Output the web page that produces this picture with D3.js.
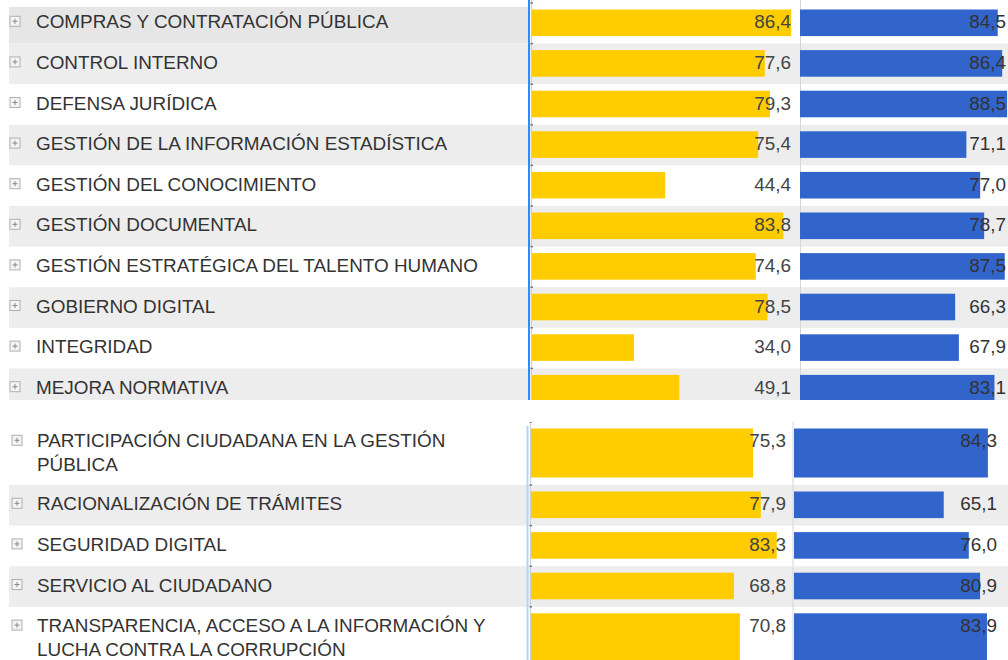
<!DOCTYPE html>
<html>
<head>
<meta charset="utf-8">
<script src="https://cdn.jsdelivr.net/npm/d3@7"></script>
<style>
  body { margin: 0; background: #fff; }
  svg { display: block; }
</style>
</head>
<body>
<script>
// datos
var categories = [
  "COMPRAS Y CONTRATACIÓN PÚBLICA",
  "CONTROL INTERNO",
  "DEFENSA JURÍDICA",
  "GESTIÓN DE LA INFORMACIÓN ESTADÍSTICA",
  "GESTIÓN DEL CONOCIMIENTO",
  "GESTIÓN DOCUMENTAL",
  "GESTIÓN ESTRATÉGICA DEL TALENTO HUMANO",
  "GOBIERNO DIGITAL",
  "INTEGRIDAD",
  "MEJORA NORMATIVA",
  "PARTICIPACIÓN CIUDADANA EN LA GESTIÓN PÚBLICA",
  "RACIONALIZACIÓN DE TRÁMITES",
  "SEGURIDAD DIGITAL",
  "SERVICIO AL CIUDADANO",
  "TRANSPARENCIA, ACCESO A LA INFORMACIÓN Y LUCHA CONTRA LA CORRUPCIÓN"
];
var valuesYellow = [86.4, 77.6, 79.3, 75.4, 44.4, 83.8, 74.6, 78.5, 34.0, 49.1, 75.3, 77.9, 83.3, 68.8, 70.8];
var valuesBlue   = [84.5, 86.4, 88.5, 71.1, 77.0, 78.7, 87.5, 66.3, 67.9, 83.1, 84.3, 65.1, 76.0, 80.9, 83.9];

var W = 1008, H = 660;
var rowH = 40.6, lineH = 24;
var fs = 18.9;
var fmt = d3.formatLocale({decimal: ",", thousands: ".", grouping: [3], currency: ["", ""]}).format(".1f");

// dos bloques (la imagen son dos capturas pegadas)
var sections = [
  {from: 0, to: 10, top: 3, clipTop: 0, clipBot: 400, iconX: 15, textX: 36,
   selX: 529, selColor: "#2b8cff", axisX: 531.5,
   xa: d3.scaleLinear().domain([0, 100]).range([532, 832]), labA: 791,
   gridX: 800.5,
   xb: d3.scaleLinear().domain([0, 100]).range([800, 1034]), labB: 1006},
  {from: 10, to: 15, top: 422, clipTop: 422, clipBot: 660, iconX: 17, textX: 37,
   selX: 527.5, selColor: "#b3d4f6", axisX: 530.5,
   xa: d3.scaleLinear().domain([0, 100]).range([531, 826]), labA: 786,
   gridX: 793,
   xb: d3.scaleLinear().domain([0, 100]).range([794, 1024]), labB: 997}
];

var svg = d3.select("body").append("svg")
    .attr("width", W)
    .attr("height", H)
    .style("font-family", "'Liberation Sans', Arial, sans-serif");

// medir y partir etiquetas largas
var meas = svg.append("text").attr("font-size", fs).attr("visibility", "hidden");
function wrap(str, maxW) {
  var words = str.split(" "), lines = [], cur = "";
  words.forEach(function(w) {
    var t = cur ? cur + " " + w : w;
    meas.text(t);
    if (meas.node().getComputedTextLength() > maxW && cur) { lines.push(cur); cur = w; }
    else cur = t;
  });
  lines.push(cur);
  return lines;
}

sections.forEach(function(s, si) {
  var clipId = "clip" + si;
  svg.append("clipPath").attr("id", clipId)
    .append("rect").attr("x", 0).attr("y", s.clipTop).attr("width", W).attr("height", s.clipBot - s.clipTop);
  var g = svg.append("g").attr("clip-path", "url(#" + clipId + ")");

  var rows = [], y = s.top;
  for (var i = s.from; i < s.to; i++) {
    var lines = wrap(categories[i], 475);
    var h = rowH + (lines.length - 1) * (lineH - 1.6);
    rows.push({i: i, name: categories[i], lines: lines, y: y, h: h, a: valuesYellow[i], b: valuesBlue[i]});
    y += h;
  }

  // fondo de filas
  g.selectAll("rect.bg").data(rows.filter(function(d) { return d.i % 2 == 1 || d.i == 0; }))
    .enter().append("rect")
    .attr("x", 9)
    .attr("y", function(d) { return d.i == 0 ? d.y + 4 : d.y; })
    .attr("width", function(d) { return d.i == 0 ? s.selX - 10 : W - 9; })
    .attr("height", function(d) { return d.i == 0 ? d.h - 4 : d.h; })
    .attr("fill", function(d) { return d.i == 0 ? "#e6e6e6" : "#ededed"; });

  // lineas verticales
  g.append("line").attr("x1", s.gridX).attr("x2", s.gridX).attr("y1", s.clipTop).attr("y2", s.clipBot)
    .attr("stroke", "#d6d6d6").attr("stroke-width", 1);
  g.append("line").attr("x1", s.axisX).attr("x2", s.axisX).attr("y1", s.clipTop).attr("y2", s.clipBot)
    .attr("stroke", "#cfcfcf").attr("stroke-width", 1);
  g.selectAll("line.tick").data(rows).enter().append("line")
    .attr("x1", s.axisX - 1).attr("x2", s.axisX + 1.5)
    .attr("y1", function(d) { return d.y; }).attr("y2", function(d) { return d.y; })
    .attr("stroke", "#777").attr("stroke-width", 1.5);
  g.append("line").attr("x1", s.selX).attr("x2", s.selX).attr("y1", si == 0 ? 0 : s.clipTop + 4).attr("y2", s.clipBot)
    .attr("stroke", s.selColor).attr("stroke-width", 2);

  // barras amarillas
  g.selectAll("rect.ya").data(rows).enter().append("rect")
    .attr("x", s.xa(0))
    .attr("y", function(d) { return d.y + 6.5; })
    .attr("width", function(d) { return s.xa(d.a) - s.xa(0); })
    .attr("height", function(d) { return d.h - 14; })
    .attr("fill", "#ffcc00");

  // barras azules
  g.selectAll("rect.bb").data(rows).enter().append("rect")
    .attr("x", s.xb(0))
    .attr("y", function(d) { return d.y + 6.5; })
    .attr("width", function(d) { return s.xb(d.b) - s.xb(0); })
    .attr("height", function(d) { return d.h - 14; })
    .attr("fill", "#3165cc");

  // iconos +
  var ic = g.selectAll("g.icon").data(rows).enter().append("g")
    .attr("transform", function(d) { return "translate(" + s.iconX + "," + (d.y + rowH / 2 - 2) + ")"; });
  ic.append("rect").attr("x", -5).attr("y", -5).attr("width", 10).attr("height", 10)
    .attr("fill", "#f4f4f4").attr("stroke", "#b0b0b0").attr("stroke-width", 1);
  ic.append("path").attr("d", "M-2.5,0H2.5M0,-2.5V2.5").attr("stroke", "#888").attr("stroke-width", 1);

  // nombres
  var tx = g.selectAll("text.name").data(rows).enter().append("text")
    .attr("x", s.textX)
    .attr("font-size", fs)
    .attr("fill", "#333");
  tx.selectAll("tspan").data(function(d) {
      return d.lines.map(function(l, k) { return {t: l, y: d.y + rowH / 2 - 1.5 + 6.5 + k * lineH}; });
    })
    .enter().append("tspan")
    .attr("x", s.textX)
    .attr("y", function(d) { return d.y; })
    .text(function(d) { return d.t; });

  // valores
  g.selectAll("text.va").data(rows).enter().append("text")
    .attr("x", s.labA)
    .attr("y", function(d) { return d.y + rowH / 2 - 1.5 + 6.5; })
    .attr("text-anchor", "end")
    .attr("font-size", fs)
    .attr("fill", "#444")
    .text(function(d) { return fmt(d.a); });
  g.selectAll("text.vb").data(rows).enter().append("text")
    .attr("x", s.labB)
    .attr("y", function(d) { return d.y + rowH / 2 - 1.5 + 6.5; })
    .attr("text-anchor", "end")
    .attr("font-size", fs)
    .attr("fill", "#333")
    .text(function(d) { return fmt(d.b); });
});
meas.remove();
</script>
</body>
</html>
